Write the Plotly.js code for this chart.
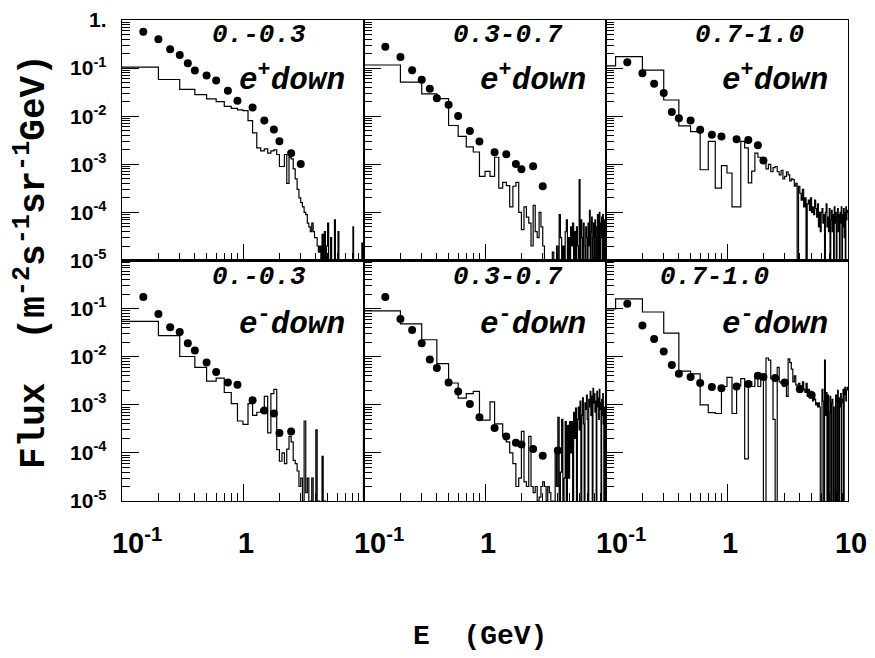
<!DOCTYPE html>
<html>
<head>
<meta charset="utf-8">
<script src="https://cdn.plot.ly/plotly-3.0.1.min.js"></script>
<style>
html,body{margin:0;padding:0;background:#fff;}
#chart{width:875px;height:658px;}
</style>
</head>
<body>
<div id="chart"></div>
<script>
// Bin edges of the histograms (GeV)
const binEdges = [0.1, 0.12, 0.2, 0.3, 0.4, 0.5, 0.6, 0.7, 0.8, 0.9, 1.0,
  1.1, 1.2, 1.3, 1.4, 1.5, 1.6, 1.7, 1.8, 1.9, 2.0,
  2.1, 2.2, 2.3, 2.4, 2.5, 2.6, 2.7, 2.8, 2.9, 3.0,
  3.1, 3.2, 3.3, 3.4, 3.5, 3.6, 3.7, 3.8, 3.9, 4.0,
  4.1, 4.2, 4.3, 4.4, 4.5, 4.6, 4.7, 4.8, 4.9, 5.0,
  5.1, 5.2, 5.3, 5.4, 5.5, 5.6, 5.7, 5.8, 5.9, 6.0,
  6.1, 6.2, 6.3, 6.4, 6.5, 6.6, 6.7, 6.8, 6.9, 7.0,
  7.1, 7.2, 7.3, 7.4, 7.5, 7.6, 7.7, 7.8, 7.9, 8.0,
  8.1, 8.2, 8.3, 8.4, 8.5, 8.6, 8.7, 8.8, 8.9, 9.0,
  9.1, 9.2, 9.3, 9.4, 9.5, 9.6, 9.7, 9.8, 9.9, 10.0];

// Histogram contents (flux), one value per bin
const histEplus1 = [0.105, 0.105, 0.058, 0.036, 0.028, 0.023, 0.020, 0.016, 0.0145, 0.0135,
  0.013, 0.0081, 0.0045, 0.0022, 0.0019, 0.0021, 0.0017, 0.0019, 0.0020, 0.0016,
  0.0009, 0.0009, 0.0016, 0.0004, 0.0014, 0.0013, 0.0008, 0.0005, 0.0003, 0.0002,
  0.00016, 0.00013, 0.0001, 0.00009, 0.00006, 0.00005, 0.00004, 0.00006, 0.00004, 0.00003,
  0.00003, 0.00002, 0.000015, 0.00002, 0.00001, 0.000035, 0, 0.00004, 0, 0.00002,
  0.00006, 0, 0, 0.00003, 0, 0, 0, 0.00007, 0, 0,
  0, 0.00004, 0, 0, 0, 0, 0, 0, 0, 0,
  0, 0, 0, 0, 0, 0, 0, 0, 0, 0,
  0, 0.00005, 0, 0, 0, 0, 0, 0, 0, 0,
  0, 0, 0, 0, 0, 0, 0.000023, 0, 0, 0];
const histEplus2 = [0.116, 0.116, 0.051, 0.029, 0.0232, 0.0064, 0.0038, 0.0023, 0.0018, 0.00056,
  0.00071, 0.00056, 0.0014, 0.00032, 0.00042, 0.00036, 0.00013, 0.00035, 0.00042, 0.0001,
  0.000044, 0.00013, 0.00008, 0.00006, 0.00002, 0.00014, 0.00004, 0.00003, 0.0001, 0.00005,
  0.00002, 0.00001, 0.000006, 0, 0.00001, 0, 0.000015, 0.00001, 0, 0.00002,
  0, 0.00009, 0.00003, 0, 0.00002, 0, 0.00004, 0.00007, 0, 0.00003,
  0, 0.00005, 0.00002, 0.00006, 0, 0.00004, 0, 0.00005, 0.00002, 0,
  0.00048, 0, 0.00007, 0.00003, 0, 0.00006, 0.00002, 0, 0.00005, 0.00003,
  0, 0.00006, 0.00002, 0.00011, 0, 0.00004, 0.00008, 0, 0.00003, 0.00006,
  0, 0.00007, 0.00003, 0, 0.00005, 0.00009, 0, 0.00004, 0.0001, 0,
  0.00006, 0.00003, 0.00008, 0, 0.00009, 0.00004, 0, 0.00007, 0.00005, 0.00003];
const histEplus3 = [0.111, 0.173, 0.091, 0.0217, 0.0063, 0.0048, 0.00077, 0.0030, 0.00032, 0.00094,
  0.00066, 0.00013, 0.00013, 0.003, 0.0022, 0.00041, 0.00072, 0.0017, 0.0014, 0.0013,
  0.0011, 0.0008, 0.001, 0.0007, 0.00085, 0.0009, 0.0007, 0.0006, 0.00075, 0.0005,
  0.00056, 0.0007, 0.0006, 0.00045, 0.0005, 0.00048, 0.00035, 0.0004, 0, 0.00035,
  0.00025, 0.00018, 0.0003, 0.00013, 0.0002, 0, 0.00015, 0.00018, 0.00011, 0.0002,
  0.0001, 0.00013, 0.00009, 0.00018, 0.00012, 0.00008, 0.00015, 0.00005, 0.0001, 0.00004,
  0.0001, 0.00012, 0.00006, 0.00009, 0, 0.0001, 0.00015, 0.00005, 0.00008, 0.00004,
  0.00012, 0, 0.00007, 0.00011, 0.00004, 0.00009, 0, 0.00013, 0.00006, 0.0001,
  0, 0.00008, 0.00012, 0.00004, 0.00009, 0, 0.0001, 0.00006, 0.00013, 0,
  0.00009, 0.00005, 0.00012, 0.00003, 0.0001, 0, 0.00013, 0.00007, 0.0001, 0.00011];
const histEminus1 = [0.054, 0.054, 0.0273, 0.0101, 0.006, 0.0031, 0.0036, 0.0018, 0.00106, 0.00046,
  0.00039, 0.00106, 0.0006, 0.0007, 0.0008, 0.0015, 0.00026, 0.0017, 0.0021, 0.000117,
  0.000067, 0.0001, 0.00006, 0.00012, 0.00022, 0.00017, 0.00007, 0.00006, 0.000042, 0.00002,
  0.00003, 0.00001, 0.00046, 0.000015, 0.00003, 0, 0.00001, 0.00003, 0, 0,
  0.0003, 0, 0.00001, 0, 0, 0.000085, 0, 0.00001, 0, 0,
  0, 0, 0, 0, 0, 0, 0, 0, 0, 0,
  0, 0, 0, 0, 0, 0, 0, 0, 0, 0,
  0, 0, 0, 0, 0, 0, 0, 0, 0, 0,
  0, 0, 0, 0, 0, 0, 0, 0, 0, 0,
  0, 0, 0, 0, 0, 0, 0, 0, 0, 0.0005];
const histEminus2 = [0.090, 0.090, 0.048, 0.0225, 0.0072, 0.00284, 0.00138, 0.0017, 0.0019, 0.00048,
  0.00048, 0.00115, 0.0004, 0.0004, 0.00022, 0.00017, 0.0001, 0.00006, 0.00002, 0.00003,
  0.00028, 0.000025, 0.00002, 0.00022, 0.00002, 0.000015, 0.00002, 0.00001, 0.000012, 0.00002,
  0.000025, 0.00002, 0.00001, 0.00002, 0.000015, 0, 0.00001, 0, 0.00012, 0.00002,
  0.00055, 0, 0.00004, 0.0005, 0, 0.00003, 0.00045, 0, 0.00035, 0.00003,
  0.00045, 0.0001, 0.00045, 0, 0.0007, 0.0002, 0.00085, 0, 0.0005, 0.0009,
  0.0003, 0.0012, 0, 0.0006, 0.0014, 0.0004, 0, 0.0011, 0.0008, 0.0016,
  0.0005, 0, 0.0013, 0.0009, 0.0019, 0.0006, 0.0015, 0, 0.0022, 0.0011,
  0.0017, 0.0007, 0.0012, 0, 0.0019, 0.0009, 0.0014, 0.0005, 0.0021, 0.0011,
  0.0008, 0, 0.0013, 0.0006, 0.0017, 0.0004, 0, 0.0009, 0.0006, 0.0012];
const histEminus3 = [0.098, 0.16, 0.085, 0.031, 0.005, 0.0044, 0.001, 0.00069, 0.00066, 0.0024,
  0.0037, 0.00066, 0.0025, 0.0035, 0.000075, 0.003, 0.0024, 0.0042, 0.0024, 0.0042,
  0, 0.0094, 0.0085, 0.0035, 0.0005, 0, 0.006, 0.003, 0.0028, 0.0024,
  0.0026, 0.0015, 0.009, 0.0075, 0.0055, 0.003, 0.004, 0.0026, 0.0021, 0.0028,
  0.0021, 0.0025, 0.003, 0.0021, 0.0018, 0.0028, 0.0015, 0.0021, 0.0017, 0.0019,
  0.0015, 0.0012, 0.0016, 0.0013, 0.001, 0.0011, 0.0009, 0.0011, 0.0009, 0,
  0, 0.0021, 0.0012, 0, 0.0085, 0.0006, 0.0018, 0, 0.0016, 0,
  0.0007, 0.0015, 0, 0.0011, 0.0013, 0, 0.0009, 0, 0, 0.0016,
  0.0012, 0, 0.002, 0.0011, 0, 0.0014, 0.0009, 0.0017, 0, 0.0013,
  0.0011, 0.0021, 0, 0.0016, 0.0023, 0.0019, 0.0012, 0.002, 0.0023, 0.0021];

// Measured points (energy, flux)
const dotE16 = [0.15, 0.2, 0.25, 0.3, 0.35, 0.4, 0.5, 0.6, 0.75, 0.9, 1.2, 1.5, 1.8, 2.0, 2.5, 3.0];
const dotE14 = [0.15, 0.2, 0.25, 0.3, 0.35, 0.4, 0.5, 0.6, 0.75, 0.9, 1.2, 1.5, 1.8, 2.0];
const dotE15 = [0.15, 0.2, 0.25, 0.3, 0.35, 0.4, 0.5, 0.6, 0.75, 0.9, 1.2, 1.5, 1.8, 2.0, 2.5];
const dotE18 = [0.15, 0.2, 0.25, 0.3, 0.35, 0.4, 0.5, 0.6, 0.75, 0.9, 1.2, 1.5, 1.8, 2.0, 2.5, 3.0, 4.0, 5.0];
const dotEplus1 = [0.571, 0.40, 0.246, 0.187, 0.126, 0.0887, 0.0698, 0.055, 0.034, 0.0209, 0.0151, 0.0081, 0.0053, 0.0030, 0.0017, 0.00102];
const dotEplus2 = [0.279, 0.17, 0.090, 0.057, 0.037, 0.0236, 0.0172, 0.0101, 0.00495, 0.00297, 0.00179, 0.00162, 0.00101, 0.00079, 0.00091, 0.00035];
const dotEplus3 = [0.132, 0.078, 0.047, 0.0305, 0.0123, 0.0091, 0.0081, 0.0052, 0.0041, 0.0038, 0.0033, 0.0032, 0.0025, 0.0012];
const dotEminus1 = [0.174, 0.077, 0.041, 0.0326, 0.019, 0.0135, 0.0076, 0.0048, 0.0029, 0.0026, 0.00124, 0.00076, 0.00066, 0.00026, 0.00028];
const dotEminus2 = [0.174, 0.061, 0.0358, 0.019, 0.0087, 0.0058, 0.0029, 0.0019, 0.00104, 0.00055, 0.00033, 0.00022, 0.000163, 0.00015, 0.00012, 0.000087, 0.000112, 0.00032];
const dotEminus3 = [0.126, 0.0447, 0.0234, 0.0129, 0.0067, 0.0044, 0.0038, 0.00284, 0.00235, 0.0022, 0.0024, 0.0027, 0.004, 0.0038, 0.0036, 0.0029, 0.0021, 0.0016];

// Labels and ticks
const zenithLabels = ['0.-0.3', '0.3-0.7', '0.7-1.0'];
const particleLabels = ['e<sup>+</sup>down', 'e<sup>-</sup>down'];
const yTickValsTop = [1, 0.1, 0.01, 0.001, 0.0001, 0.00001];
const yTickTextTop = ['1.', '10<sup>-1</sup>', '10<sup>-2</sup>', '10<sup>-3</sup>', '10<sup>-4</sup>', '10<sup>-5</sup>'];
const yTickValsBot = [0.1, 0.01, 0.001, 0.0001, 0.00001];
const yTickTextBot = ['10<sup>-1</sup>', '10<sup>-2</sup>', '10<sup>-3</sup>', '10<sup>-4</sup>', '10<sup>-5</sup>'];
const xTickValsA = [0.1, 1];
const xTickTextA = ['&nbsp;&nbsp;&nbsp;10<sup>-1</sup>', '1'];
const xTickValsB = [0.1, 1, 10];
const xTickTextB = ['&nbsp;&nbsp;&nbsp;10<sup>-1</sup>', '1', '10'];
const xMinor = [0.2,0.3,0.4,0.5,0.6,0.7,0.8,0.9,2,3,4,5,6,7,8,9];
const yMinor = [2e-5,3e-5,4e-5,5e-5,6e-5,7e-5,8e-5,9e-5,2e-4,3e-4,4e-4,5e-4,6e-4,7e-4,8e-4,9e-4,
  2e-3,3e-3,4e-3,5e-3,6e-3,7e-3,8e-3,9e-3,0.02,0.03,0.04,0.05,0.06,0.07,0.08,0.09,0.2,0.3,0.4,0.5,0.6,0.7,0.8,0.9];

const hists = [histEplus1, histEplus2, histEplus3, histEminus1, histEminus2, histEminus3];
const dotsX = [dotE16, dotE16, dotE14, dotE15, dotE18, dotE18];
const dotsY = [dotEplus1, dotEplus2, dotEplus3, dotEminus1, dotEminus2, dotEminus3];

const FLOOR = 1e-9; // empty bins drawn below the axis
const traces = [];
for (let p = 0; p < 6; p++) {
  const sfx = p === 0 ? '' : String(p + 1);
  const h = hists[p].map(v => v > 0 ? v : FLOOR);
  h.push(h[h.length - 1]);
  traces.push({
    type: 'scatter', mode: 'lines', x: binEdges, y: h,
    line: {shape: 'hv', color: '#000', width: 1.2},
    xaxis: 'x' + sfx, yaxis: 'y' + sfx, hoverinfo: 'skip'
  });
  traces.push({
    type: 'scatter', mode: 'markers', x: dotsX[p], y: dotsY[p],
    marker: {color: '#000', size: 8, symbol: 'circle'},
    xaxis: 'x' + sfx, yaxis: 'y' + sfx, cliponaxis: true
  });
}

const W = 726, H = 481, L = 122, T = 20;
const px = x => (x - L) / W;
const py = y => 1 - (y - T) / H;

const layout = {
  width: 875, height: 658,
  margin: {l: 122, r: 27, t: 20, b: 157, pad: 0},
  paper_bgcolor: '#fff', plot_bgcolor: '#fff',
  showlegend: false,
  font: {family: 'Liberation Sans, Arial, sans-serif', color: '#000'},
  annotations: []
};

const xDom = [[0, 1/3], [1/3, 2/3], [2/3, 1]];
const yDom = [[0.5, 1], [0, 0.5]];
for (let p = 0; p < 6; p++) {
  const col = p % 3, row = Math.floor(p / 3);
  const sfx = p === 0 ? '' : String(p + 1);
  const bottom = row === 1, left = col === 0;
  const xa = {
    type: 'log', range: [-1, 1], domain: xDom[col], anchor: 'y' + sfx,
    showline: true, mirror: true, linecolor: '#000', linewidth: 1.3,
    showgrid: false, zeroline: false,
    ticks: 'inside', ticklen: 17, tickwidth: 1, tickcolor: '#000',
    tickmode: 'array',
    tickvals: col === 2 ? xTickValsB : xTickValsA,
    showticklabels: bottom,
    minor: {tickmode: 'array', tickvals: xMinor, ticks: 'inside', ticklen: 8, tickwidth: 1, tickcolor: '#000', showgrid: false}
  };
  if (bottom) {
    xa.ticktext = col === 2 ? xTickTextB : xTickTextA;
    xa.tickfont = {size: 29, family: 'Liberation Sans, Arial, sans-serif', weight: 'bold'};
    xa.ticklabelstandoff = 16;
    xa.ticklabelshift = 3;
  }
  layout['xaxis' + sfx] = xa;
  const ya = {
    type: 'log', range: [-5, 0], domain: yDom[row], anchor: 'x' + sfx,
    showline: true, mirror: true, linecolor: '#000', linewidth: 1.3,
    showgrid: false, zeroline: false,
    ticks: 'inside', ticklen: 17, tickwidth: 1, tickcolor: '#000',
    tickmode: 'array', tickvals: row === 0 ? yTickValsTop : yTickValsBot,
    showticklabels: left,
    minor: {tickmode: 'array', tickvals: yMinor, ticks: 'inside', ticklen: 8, tickwidth: 1, tickcolor: '#000', showgrid: false}
  };
  if (left) {
    ya.ticktext = row === 0 ? yTickTextTop : yTickTextBot;
    ya.tickfont = {size: 21, family: 'Liberation Sans, Arial, sans-serif', weight: 'bold'};
    ya.ticklabelstandoff = 10;
  }
  layout['yaxis' + sfx] = ya;
}

const labFont = (s) => ({family: 'Liberation Mono, Courier New, monospace', size: s, weight: 'bold', style: 'italic', color: '#000'});
const zenX = [[259, 508, 749], [259, 508, 714]];
const zenY = [35, 277];
const partX = [292, 533, 775];
const partY = [78, 322];
for (let row = 0; row < 2; row++) {
  for (let col = 0; col < 3; col++) {
    layout.annotations.push({
      xref: 'paper', yref: 'paper', x: px(zenX[row][col]), y: py(zenY[row]),
      xanchor: 'center', yanchor: 'middle', showarrow: false,
      text: zenithLabels[col], font: labFont(26)
    });
    layout.annotations.push({
      xref: 'paper', yref: 'paper', x: px(partX[col]), y: py(partY[row]),
      xanchor: 'center', yanchor: 'middle', showarrow: false,
      text: particleLabels[row], font: labFont(31)
    });
  }
}
// axis titles
layout.annotations.push({
  xref: 'paper', yref: 'paper', x: px(480), y: py(636), xanchor: 'center', yanchor: 'middle',
  showarrow: false, text: 'E  (GeV)',
  font: {family: 'Liberation Mono, Courier New, monospace', size: 28, weight: 'bold', color: '#000'}
});
layout.annotations.push({
  xref: 'paper', yref: 'paper', x: px(31), y: py(262), xanchor: 'center', yanchor: 'middle',
  showarrow: false, textangle: -90,
  text: 'Flux  (m<sup>-2</sup>s<sup>-1</sup>sr<sup>-1</sup>GeV)',
  font: {family: 'Liberation Mono, Courier New, monospace', size: 36, weight: 'bold', color: '#000'}
});

Plotly.newPlot('chart', traces, layout, {staticPlot: true, displayModeBar: false});
</script>
</body>
</html>
